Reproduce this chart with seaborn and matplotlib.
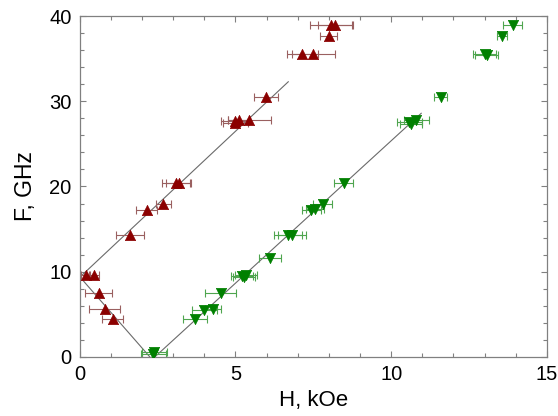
import numpy as np
import pandas as pd
import seaborn as sns
import matplotlib
matplotlib.use("Agg")
import matplotlib.pyplot as plt
from matplotlib.ticker import MultipleLocator

# ---- data ----
H_red = [0.19, 0.45, 0.61, 0.80, 1.06, 1.61, 2.15, 2.68, 3.10, 3.18, 5.00, 5.12, 5.00, 5.45,
         5.98, 7.15, 7.50, 8.00, 8.08, 8.19]
F_red = [9.65, 9.65, 7.55, 5.6, 4.46, 14.3, 17.2, 17.9, 20.4, 20.4, 27.7, 27.8, 27.4, 27.8,
         30.5, 35.5, 35.5, 37.65, 38.9, 38.9]
dH_red = [0.15, 0.17, 0.44, 0.5, 0.34, 0.45, 0.33, 0.24, 0.45, 0.4, 0.45, 0.35, 0.4, 0.7,
          0.4, 0.5, 0.7, 0.27, 0.7, 0.55]

H_grn = [2.39, 2.36, 3.70, 4.00, 4.28, 4.52, 5.20, 5.28, 5.35, 6.10, 6.70, 6.82, 7.44, 7.55,
         7.80, 8.48, 10.58, 10.65, 10.80, 11.59, 13.00, 13.07, 13.56, 13.90]
F_grn = [0.62, 0.35, 4.42, 5.5, 5.67, 7.47, 9.5, 9.4, 9.6, 11.6, 14.3, 14.3, 17.2, 17.4,
         17.9, 20.4, 27.6, 27.3, 27.8, 30.5, 35.5, 35.4, 37.65, 38.9]
dH_grn = [0.4, 0.4, 0.4, 0.4, 0.25, 0.5, 0.35, 0.35, 0.35, 0.35, 0.45, 0.45, 0.3, 0.3,
          0.3, 0.3, 0.4, 0.35, 0.4, 0.2, 0.37, 0.37, 0.15, 0.3]

# fit lines (endpoints)
line_red_up_H = [0.0, 6.7]
line_red_up_F = [9.35, 32.3]
line_red_down_H = [0.0, 2.25]
line_red_down_F = [9.4, 0.0]
line_grn_H = [2.41, 10.97]
line_grn_F = [0.0, 28.6]

x_ticks = [0, 5, 10, 15]
y_ticks = [0, 10, 20, 30, 40]

RED = "#8b0000"
GRN = "#008000"

sns.set_style("ticks")
plt.rcParams['font.family'] = ['Liberation Sans', 'DejaVu Sans']
plt.rcParams['text.color'] = 'black'
plt.rcParams['axes.labelcolor'] = 'black'
plt.rcParams['xtick.labelcolor'] = 'black'
plt.rcParams['ytick.labelcolor'] = 'black'

fig = plt.figure(figsize=(5.58, 4.16), dpi=100)
ax = fig.add_axes([0.143, 0.142, 0.837, 0.8195])

lines = pd.concat([
    pd.DataFrame({"H": line_red_up_H, "F": line_red_up_F, "g": "a"}),
    pd.DataFrame({"H": line_red_down_H, "F": line_red_down_F, "g": "b"}),
    pd.DataFrame({"H": line_grn_H, "F": line_grn_F, "g": "c"}),
])
sns.lineplot(data=lines, x="H", y="F", units="g", estimator=None, sort=False,
             color="#6a6a6a", lw=0.8, ax=ax)

ax.errorbar(H_red, F_red, xerr=dH_red, fmt="none", ecolor="#9a6060", elinewidth=0.8,
            capsize=3, capthick=0.8, zorder=2)
ax.errorbar(H_grn, F_grn, xerr=dH_grn, fmt="none", ecolor="#4fa54f", elinewidth=0.8,
            capsize=3, capthick=0.8, zorder=2)

red_df = pd.DataFrame({"H": H_red, "F": F_red})
grn_df = pd.DataFrame({"H": H_grn, "F": F_grn})
sns.scatterplot(data=red_df, x="H", y="F", marker="^", color=RED, s=55, edgecolor=RED,
                linewidth=0.5, ax=ax, zorder=3)
sns.scatterplot(data=grn_df, x="H", y="F", marker="v", color=GRN, s=55, edgecolor=GRN,
                linewidth=0.5, ax=ax, zorder=3)

ax.set_xlim(0, 15)
ax.set_ylim(0, 40)
ax.set_xticks(x_ticks)
ax.set_yticks(y_ticks)
ax.xaxis.set_minor_locator(MultipleLocator(1))
ax.yaxis.set_minor_locator(MultipleLocator(2))
ax.tick_params(which="both", direction="in", top=True, right=True, color="#808080",
               labelsize=14.5, pad=6, labelcolor="black")
ax.tick_params(which="major", length=4, width=0.8)
ax.tick_params(which="minor", length=3, width=0.8)
for s in ax.spines.values():
    s.set_color("#808080")
    s.set_linewidth(0.9)

ax.set_xlabel("H, kOe", fontsize=16, labelpad=4, color="black")
ax.set_ylabel("F, GHz", fontsize=16.5, labelpad=9, color="black")

fig.savefig("out.png", dpi=100)
